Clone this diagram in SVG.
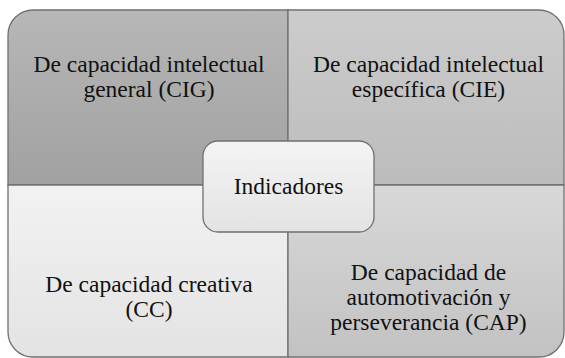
<svg xmlns="http://www.w3.org/2000/svg" width="565" height="358" viewBox="0 0 565 358">
<defs>
<linearGradient id="gTL" x1="0" y1="0" x2="0" y2="1"><stop offset="0" stop-color="#b7b7b7"/><stop offset="1" stop-color="#a1a1a1"/></linearGradient>
<linearGradient id="gTR" x1="0" y1="0" x2="0" y2="1"><stop offset="0" stop-color="#cccccc"/><stop offset="1" stop-color="#bcbcbc"/></linearGradient>
<linearGradient id="gBL" x1="0" y1="0" x2="0" y2="1"><stop offset="0" stop-color="#f2f2f2"/><stop offset="1" stop-color="#e3e3e3"/></linearGradient>
<linearGradient id="gBR" x1="0" y1="0" x2="0" y2="1"><stop offset="0" stop-color="#d8d8d8"/><stop offset="1" stop-color="#c2c2c2"/></linearGradient>
<linearGradient id="gC" x1="0" y1="0" x2="0" y2="1"><stop offset="0" stop-color="#f4f4f4"/><stop offset="1" stop-color="#e3e3e3"/></linearGradient>
</defs>
<style>
.q{stroke:#707070;stroke-width:1.3}
.t{font-family:'Liberation Serif','Times New Roman',serif;font-size:23.5px;fill:#111;text-anchor:middle}
</style>
<g id="quadrant-cig">
<path class="q" fill="url(#gTL)" d="M8,185 V35 A25,25 0 0 1 33,10 H288 V185 Z"/>
<text class="t" x="149" y="72">De capacidad intelectual</text>
<text class="t" x="149" y="97">general (CIG)</text>
</g>
<g id="quadrant-cie">
<path class="q" fill="url(#gTR)" d="M288,10 H539 A25,25 0 0 1 564,35 V185 H288 Z"/>
<text class="t" x="428.5" y="72">De capacidad intelectual</text>
<text class="t" x="428.5" y="97">específica (CIE)</text>
</g>
<g id="quadrant-cc">
<path class="q" fill="url(#gBL)" d="M8,185 H288 V357 H33 A25,25 0 0 1 8,332 Z"/>
<text class="t" x="149" y="292">De capacidad creativa</text>
<text class="t" x="149" y="317">(CC)</text>
</g>
<g id="quadrant-cap">
<path class="q" fill="url(#gBR)" d="M288,185 H564 V332 A25,25 0 0 1 539,357 H288 Z"/>
<text class="t" x="428.5" y="280">De capacidad de</text>
<text class="t" x="428.5" y="305">automotivación y</text>
<text class="t" x="428.5" y="330">perseverancia (CAP)</text>
</g>
<g id="connectors"></g>
<g id="center-indicadores">
<rect x="203" y="141" width="171" height="91" rx="15" fill="url(#gC)" stroke="#707070" stroke-width="1.3"/>
<text class="t" x="288.5" y="194">Indicadores</text>
</g>
</svg>
